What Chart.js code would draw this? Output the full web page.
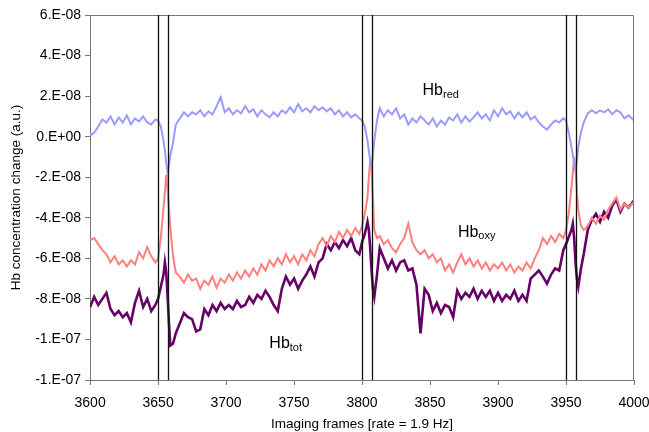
<!DOCTYPE html>
<html>
<head>
<meta charset="utf-8">
<script src="https://cdn.jsdelivr.net/npm/chart.js@4.4.1/dist/chart.umd.min.js"></script>
<style>
  body { margin: 0; background: #fff; }
  #wrap { width: 649px; height: 432px; }
</style>
</head>
<body>
<div id="wrap"><canvas id="chart"></canvas></div>
<script>
// imaging frame numbers
const frames = [
  3600,3603,3606,3609,3612,3615,3618,3621,3624,3627,
  3630,3633,3636,3639,3642,3645,3648,3650,3652,3654,
  3655,3656,3657,3658,3659,3661,3663,3666,3669,3672,
  3675,3678,3681,3684,3687,3690,3693,3696,3699,3702,
  3705,3708,3711,3714,3717,3720,3723,3726,3729,3732,
  3735,3738,3741,3744,3747,3750,3753,3756,3759,3762,
  3765,3768,3771,3774,3777,3780,3783,3786,3789,3792,
  3795,3798,3800,3802,3804,3805,3806,3807,3808,3809,
  3811,3813,3816,3819,3822,3825,3828,3831,3834,3837,
  3840,3843,3846,3849,3852,3855,3858,3861,3864,3867,
  3870,3873,3876,3879,3882,3885,3888,3891,3894,3897,
  3900,3903,3906,3909,3912,3915,3918,3921,3924,3927,
  3930,3933,3936,3939,3942,3945,3948,3950,3952,3954,
  3955,3956,3957,3958,3959,3961,3963,3966,3969,3972,
  3975,3978,3981,3984,3987,3990,3993,3996,4000
];

// concentration changes, in units of 1E-08
const hbRed = [
  0.05,0.2,0.5,0.85,0.7,1.0,0.6,0.95,0.7,1.05,
  0.6,0.9,0.75,1.0,0.7,0.6,0.85,0.8,0.5,-0.2,
  -0.7,-1.3,-1.8,-1.4,-0.9,-0.3,0.6,0.9,1.2,1.0,
  1.2,1.1,1.3,1.0,1.25,1.1,1.5,1.95,1.2,1.4,
  1.1,1.3,1.15,1.5,1.2,1.35,1.0,1.3,1.1,0.95,
  1.2,1.0,1.3,1.15,1.45,1.2,1.6,1.25,1.4,1.2,
  1.5,1.3,1.45,1.25,1.4,1.1,1.3,1.0,1.2,0.95,
  1.1,0.9,0.8,0.5,-0.2,-0.7,-1.2,-1.5,-0.9,-0.2,
  0.8,1.4,1.0,1.3,1.1,1.4,0.9,1.1,0.6,0.9,
  0.7,1.0,0.8,0.6,0.9,0.5,0.8,0.6,0.95,0.8,
  1.1,0.7,1.0,0.75,0.95,1.2,0.9,1.1,0.8,1.3,
  1.0,1.4,1.1,1.25,0.9,1.2,0.95,1.2,0.85,1.0,
  0.7,0.5,0.35,0.6,0.8,0.7,0.9,0.8,0.2,-0.5,
  -0.9,-1.3,-1.7,-1.2,-0.5,0.2,0.7,1.15,1.3,1.15,
  1.3,1.2,1.35,1.1,1.3,1.2,0.9,1.05,0.8
];

const hbOxy = [
  -5.1,-5.0,-5.3,-5.6,-5.8,-6.2,-5.9,-6.3,-6.1,-6.4,
  -6.1,-6.3,-5.7,-6.0,-5.45,-5.9,-6.2,-6.0,-5.0,-3.5,
  -2.7,-1.9,-2.6,-3.6,-4.5,-5.9,-6.7,-6.9,-7.2,-6.8,
  -7.1,-7.0,-7.5,-7.1,-7.3,-6.9,-7.45,-7.0,-7.2,-6.8,
  -7.1,-6.7,-7.0,-6.6,-6.9,-6.5,-6.8,-6.3,-6.6,-6.1,
  -6.4,-6.0,-6.3,-5.8,-6.2,-5.9,-6.3,-5.8,-6.1,-5.6,
  -5.9,-5.3,-5.0,-5.4,-4.9,-5.2,-4.7,-5.0,-4.6,-4.9,
  -4.5,-4.8,-4.4,-3.8,-3.0,-2.0,-1.2,-1.6,-3.0,-4.6,
  -5.0,-4.9,-5.3,-5.1,-5.5,-5.7,-5.3,-5.0,-4.3,-5.2,
  -5.6,-5.8,-5.6,-6.0,-5.8,-6.2,-6.0,-6.6,-6.3,-6.7,
  -6.2,-5.8,-6.3,-6.0,-6.4,-6.1,-6.5,-6.2,-6.6,-6.3,
  -6.5,-6.2,-6.6,-6.3,-6.7,-6.4,-6.6,-6.2,-6.5,-6.0,
  -5.6,-5.0,-5.3,-4.9,-5.2,-4.8,-5.0,-4.6,-3.8,-2.5,
  -1.8,-1.0,-1.6,-2.7,-3.6,-4.4,-4.6,-4.4,-4.0,-4.3,
  -3.9,-4.1,-3.6,-3.3,-3.0,-3.6,-3.3,-3.5,-3.2
];

const hbTot = [
  -8.4,-7.9,-8.3,-8.0,-7.7,-8.5,-8.8,-8.6,-8.9,-8.7,
  -9.15,-8.2,-7.6,-8.4,-8.0,-8.6,-8.3,-8.0,-7.4,-6.8,
  -6.2,-6.7,-7.9,-9.2,-10.3,-10.2,-9.7,-9.2,-8.7,-8.9,
  -9.0,-9.6,-9.5,-8.5,-8.8,-8.3,-8.6,-8.2,-8.5,-8.3,
  -8.5,-8.1,-8.4,-8.3,-7.9,-8.2,-7.8,-8.0,-7.6,-7.9,
  -8.3,-8.6,-7.5,-6.9,-7.3,-7.0,-7.5,-7.1,-6.8,-6.4,
  -6.9,-6.2,-6.0,-5.3,-5.6,-5.2,-5.5,-5.1,-5.4,-5.0,
  -5.6,-5.8,-5.2,-4.8,-4.2,-4.6,-5.5,-6.6,-7.5,-7.9,
  -6.8,-5.5,-6.0,-6.5,-6.1,-6.6,-6.2,-6.1,-6.6,-6.5,
  -7.3,-9.7,-7.5,-7.8,-8.6,-8.2,-8.7,-8.3,-8.4,-8.9,
  -7.6,-8.0,-7.7,-7.9,-7.5,-8.0,-7.6,-7.9,-7.6,-8.1,
  -7.7,-8.1,-7.8,-8.0,-7.6,-8.1,-7.8,-8.1,-7.0,-6.8,
  -6.6,-6.9,-7.25,-6.8,-6.5,-6.6,-5.6,-5.3,-4.95,-4.6,
  -4.3,-5.0,-6.2,-7.0,-7.4,-6.5,-5.8,-4.6,-4.1,-3.8,
  -4.2,-3.7,-4.0,-3.4,-3.1,-3.7,-3.3,-3.5,-3.15
];

// stimulus marker frames (vertical lines)
const markerFrames = [3650, 3657, 3800, 3807, 3950, 3957];

// y tick labels, bottom to top
const yTickLabels = ['-1.E-07','-1.E-07','-8.E-08','-6.E-08','-4.E-08','-2.E-08','0.E+00','2.E-08','4.E-08','6.E-08'];

const toPoints = vals => frames.map((f, i) => ({ x: f, y: vals[i] }));

const FONT = "'Liberation Sans', Arial, sans-serif";

const overlayPlugin = {
  id: 'overlay',
  afterDatasetsDraw(chart) {
    const { ctx, chartArea: a, scales: { x, y } } = chart;
    ctx.save();
    // box around plot
    ctx.strokeStyle = '#777';
    ctx.lineWidth = 1;
    ctx.beginPath();
    ctx.moveTo(a.left, a.top + 0.5);
    ctx.lineTo(a.right - 0.5, a.top + 0.5);
    ctx.lineTo(a.right - 0.5, a.bottom);
    ctx.stroke();
    // marker lines
    ctx.strokeStyle = '#111';
    ctx.lineWidth = 1.3;
    markerFrames.forEach(f => {
      const px = Math.round(x.getPixelForValue(f)) + 0.5;
      ctx.beginPath();
      ctx.moveTo(px, a.top);
      ctx.lineTo(px, a.bottom);
      ctx.stroke();
    });
    // series labels
    const labels = [
      { main: 'Hb', sub: 'red', fx: 3844.5, fy: 2.25 },
      { main: 'Hb', sub: 'oxy', fx: 3870.5, fy: -4.72 },
      { main: 'Hb', sub: 'tot', fx: 3731.8, fy: -10.2 }
    ];
    ctx.fillStyle = '#000';
    ctx.textBaseline = 'middle';
    ctx.textAlign = 'left';
    labels.forEach(l => {
      const px = x.getPixelForValue(l.fx);
      const py = y.getPixelForValue(l.fy);
      ctx.font = '16px ' + FONT;
      ctx.fillText(l.main, px, py);
      const w = ctx.measureText(l.main).width;
      ctx.font = '11px ' + FONT;
      ctx.fillText(l.sub, px + w, py + 4);
    });
    ctx.restore();
  }
};

new Chart(document.getElementById('chart').getContext('2d'), {
  type: 'line',
  data: {
    datasets: [
      { label: 'Hbred', data: toPoints(hbRed), borderColor: '#9b9bff', borderWidth: 2 },
      { label: 'Hboxy', data: toPoints(hbOxy), borderColor: '#ff7f7f', borderWidth: 2 },
      { label: 'Hbtot', data: toPoints(hbTot), borderColor: '#660066', borderWidth: 2.6 }
    ]
  },
  options: {
    responsive: true,
    maintainAspectRatio: false,
    animation: false,
    layout: { padding: { left: 8, right: 0, top: 15, bottom: 0 } },
    elements: { point: { radius: 0 }, line: { tension: 0 } },
    plugins: { legend: { display: false }, tooltip: { enabled: false } },
    scales: {
      x: {
        type: 'linear',
        min: 3600,
        max: 4000,
        afterFit: s => { s.paddingRight = 15; },
        grid: { display: true, drawOnChartArea: false, drawTicks: true, tickLength: 5, color: '#777' },
        border: { color: '#777' },
        ticks: {
          stepSize: 50,
          color: '#000',
          font: { family: FONT, size: 14 },
          padding: 10,
          maxRotation: 0,
          callback: v => String(v)
        },
        title: { display: true, text: 'Imaging frames [rate = 1.9 Hz]', color: '#000', font: { family: FONT, size: 13.5 }, padding: { top: -6, bottom: 0 } }
      },
      y: {
        min: -12,
        max: 6,
        grid: { display: true, drawOnChartArea: false, drawTicks: true, tickLength: 5, color: '#777' },
        border: { color: '#777' },
        ticks: {
          stepSize: 2,
          color: '#000',
          font: { family: FONT, size: 14 },
          padding: 4,
          callback: (v, i) => yTickLabels[i]
        },
        title: { display: true, text: 'Hb concentration change (a.u.)', color: '#000', font: { family: FONT, size: 13.5 }, padding: { top: 0, bottom: 7 } }
      }
    }
  },
  plugins: [overlayPlugin]
});
</script>
</body>
</html>
